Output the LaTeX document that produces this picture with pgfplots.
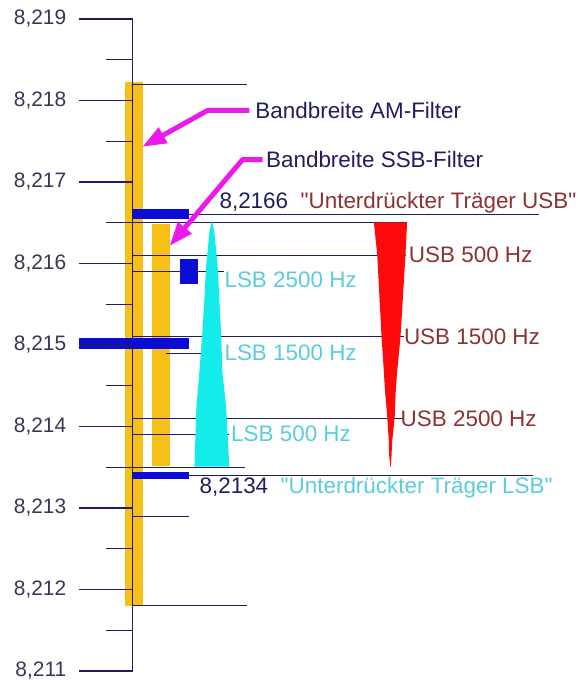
\documentclass[border=0pt]{standalone}
\usepackage{pgfplots}
\pgfplotsset{compat=1.18}
\usepackage{fontspec}
\setmainfont{Liberation Sans}[Ligatures=TeXOff]
\usetikzlibrary{arrows.meta}
\definecolor{navy}{RGB}{30,30,95}
\definecolor{ticktext}{RGB}{55,55,85}
\definecolor{gold}{RGB}{246,192,24}
\definecolor{sblue}{RGB}{12,12,215}
\definecolor{scyan}{RGB}{20,235,235}
\definecolor{sred}{RGB}{255,10,10}
\definecolor{tred}{RGB}{140,50,50}
\definecolor{tcyan}{RGB}{90,205,220}
\definecolor{mag}{RGB}{235,25,235}
\newcommand{\lab}{\fontsize{22.5}{27}\selectfont}
\begin{document}
\begin{tikzpicture}
\begin{axis}[
  scale only axis, width=448pt, height=683pt,
  xmin=133, xmax=581, ymin=8210.8777, ymax=8219.2324,
  clip=false,
  axis x line=none, axis y line=left,
  y axis line style={draw=none},
  ytick={8211,8212,8213,8214,8215,8216,8217,8218,8219},
  yticklabels={8{,}211,8{,}212,8{,}213,8{,}214,8{,}215,8{,}216,8{,}217,8{,}218,8{,}219},
  minor ytick={8211.5,8212.5,8213.5,8214.5,8215.5,8216.5,8217.5,8218.5},
  tick align=outside,
  major tick length=54pt, minor tick length=27pt,
  every tick/.style={navy, line width=1.2pt},
  yticklabel style={font=\fontsize{21}{25}\selectfont, text=ticktext, xshift=-9pt},
  axis on top,
]
% bounding box of the whole picture
\path (axis cs:0,8210.8777) rectangle (axis cs:581,8219.2324);

% filter bandwidths (yellow)
\addplot[fill=gold, draw=none] coordinates {(125,8211.795) (143.3,8211.795) (143.3,8218.221) (125,8218.221)} -- cycle;
\addplot[fill=gold, draw=none] coordinates {(152.3,8213.51) (170,8213.51) (170,8216.49) (152.3,8216.49)} -- cycle;

% main axis line
\addplot[navy, line width=1.5pt] coordinates {(133,8211) (133,8219)};

% navy reference lines
\addplot[navy, line width=1.2pt] coordinates {(133,8218.2) (248,8218.2)};
\addplot[navy, line width=1.2pt] coordinates {(133,8211.8) (248,8211.8)};
\addplot[navy, line width=1.2pt] coordinates {(190,8216.6) (541,8216.6)};
\addplot[navy, line width=1.2pt] coordinates {(106,8216.5) (408,8216.5)};
\addplot[navy, line width=1.2pt] coordinates {(133,8216.1) (407,8216.1)};
\addplot[navy, line width=1.2pt] coordinates {(133,8215.9) (225,8215.9)};
\addplot[navy, line width=1.2pt] coordinates {(133,8215.1) (405,8215.1)};
\addplot[navy, line width=1.2pt] coordinates {(166.7,8214.9) (223,8214.9)};
\addplot[navy, line width=1.2pt] coordinates {(133,8214.1) (405,8214.1)};
\addplot[navy, line width=1.2pt] coordinates {(133,8213.9) (230,8213.9)};
\addplot[navy, line width=1.2pt] coordinates {(106,8213.5) (246,8213.5)};
\addplot[navy, line width=1.2pt] coordinates {(190,8213.4) (535,8213.4)};
\addplot[navy, line width=1.2pt] coordinates {(133,8212.9) (190,8212.9)};

% blue bars
\addplot[fill=sblue, draw=none] coordinates {(133,8216.541) (190,8216.541) (190,8216.664) (133,8216.664)} -- cycle;
\addplot[fill=sblue, draw=none] coordinates {(133,8213.352) (190,8213.352) (190,8213.443) (133,8213.443)} -- cycle;
\addplot[fill=sblue, draw=none] coordinates {(79,8214.945) (190,8214.945) (190,8215.08) (79,8215.08)} -- cycle;
\addplot[fill=sblue, draw=none] coordinates {(181,8215.746) (199,8215.746) (199,8216.052) (181,8216.052)} -- cycle;

% LSB spectrum (cyan)
\addplot[fill=scyan, draw=none] coordinates {
  (212,8216.505) (213,8216.505) (215,8216.382) (218.3,8215.966) (220,8215.563)
  (221.7,8215.159) (223,8214.670) (226.7,8214.254) (230,8213.508)
  (195,8213.508) (197,8214.254) (200,8214.670) (203,8215.159) (205,8215.563)
  (206.7,8215.966) (210,8216.382)} -- cycle;

% USB spectrum (red)
\addplot[fill=sred, draw=none] coordinates {
  (408.3,8216.505) (406.7,8216.113) (401.7,8215.098) (398.3,8214.670) (397,8214.462)
  (396,8214.135) (393.3,8213.813) (392.7,8213.646) (392,8213.504)
  (391.5,8213.504) (390.3,8213.646) (390,8213.813) (388.3,8214.135) (386,8214.462)
  (385,8214.670) (382.7,8215.098) (378.3,8216.113) (375,8216.505)} -- cycle;

% magenta arrows
\addplot[mag, line width=5pt, line join=round, -{Triangle[length=24pt,width=17pt]}]
  coordinates {(250,8217.878) (208.3,8217.878) (142.7,8217.431)};
\addplot[mag, line width=5pt, line join=round, -{Triangle[length=24pt,width=17pt]}]
  coordinates {(263.3,8217.275) (243.3,8217.275) (170,8216.215)};

% texts
\node[anchor=base west, inner sep=0pt, text=navy, font=\lab] at (axis cs:256,8217.773) {Bandbreite AM-Filter};
\node[anchor=base west, inner sep=0pt, text=navy, font=\lab] at (axis cs:266.7,8217.174) {Bandbreite SSB-Filter};
\node[anchor=base west, inner sep=0pt, font=\lab] at (axis cs:220,8216.672) {\textcolor{navy}{8,2166}\ \ \textcolor{tred}{"Unterdrückter Träger USB"}};
\node[anchor=base west, inner sep=0pt, font=\lab] at (axis cs:200,8213.177) {\textcolor{navy}{8,2134}\ \ \textcolor{tcyan}{"Unterdrückter Träger LSB"}};
\node[anchor=base west, inner sep=0pt, text=tred, font=\lab] at (axis cs:410,8216.012) {USB 500 Hz};
\node[anchor=base west, inner sep=0pt, text=tred, font=\lab] at (axis cs:405,8215.006) {USB 1500 Hz};
\node[anchor=base west, inner sep=0pt, text=tred, font=\lab] at (axis cs:401.7,8214.006) {USB 2500 Hz};
\node[anchor=base west, inner sep=0pt, text=tcyan, font=\lab] at (axis cs:225,8215.706) {LSB 2500 Hz};
\node[anchor=base west, inner sep=0pt, text=tcyan, font=\lab] at (axis cs:225,8214.808) {LSB 1500 Hz};
\node[anchor=base west, inner sep=0pt, text=tcyan, font=\lab] at (axis cs:231.7,8213.810) {LSB 500 Hz};
\end{axis}
\end{tikzpicture}
\end{document}
